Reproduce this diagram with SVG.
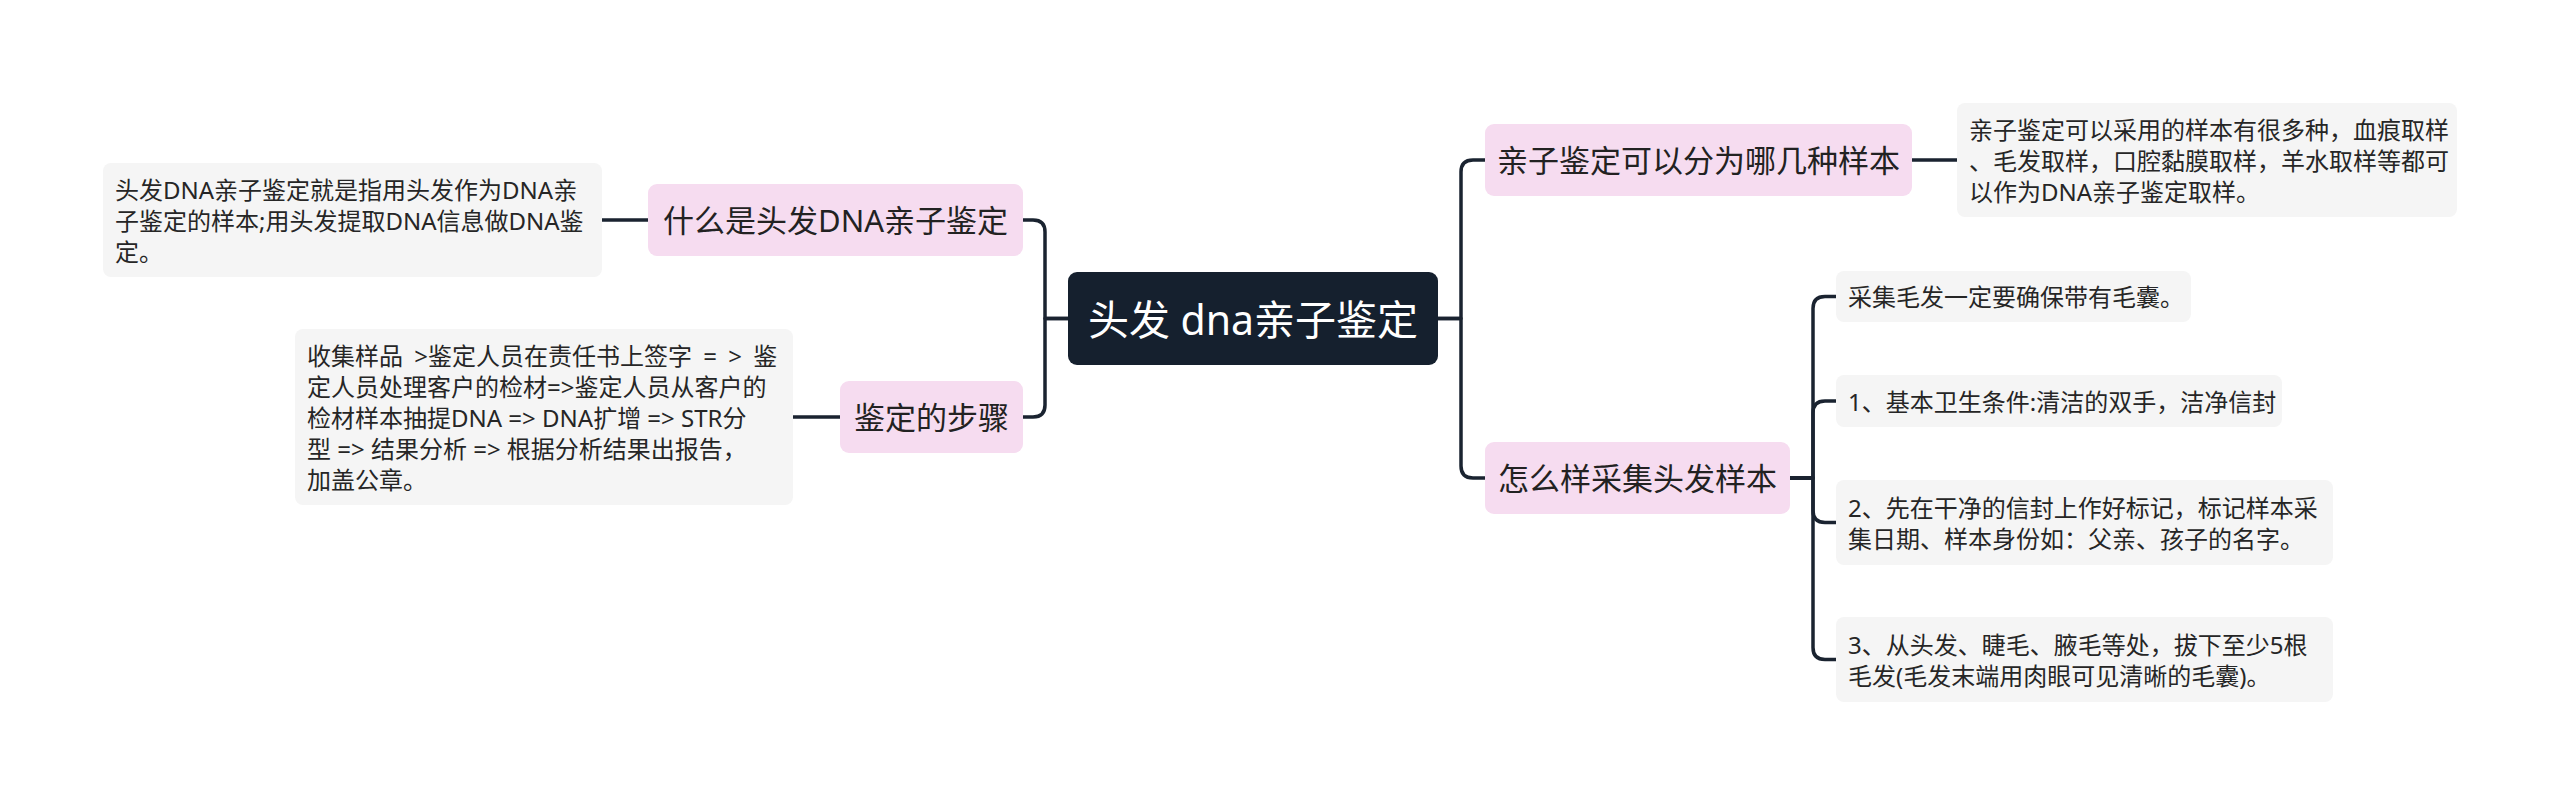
<svg xmlns="http://www.w3.org/2000/svg" width="2560" height="803" viewBox="0 0 2560 803">
<style>
.bg{fill:#ffffff}
.root rect{fill:#15202e}
.root text{fill:#ffffff;font-size:41px}
.branch rect{fill:#f6dcf0}
.branch text{fill:#222222;font-size:31px}
.leaf rect{fill:#f5f5f5}
.leaf text{fill:#262626;font-size:24px}
.ws{word-spacing:5px}
text{font-family:"Noto Sans","Noto Sans CJK SC",sans-serif;dominant-baseline:central}
.c path{fill:none;stroke:#1a2330;stroke-width:3.5;stroke-linecap:round;stroke-linejoin:round}
</style>
<rect class="bg" x="0" y="0" width="2560" height="803"/>
<g class="c" id="connectors">
<path d="M1068,318.5 H1045 V232 Q1045,220 1033,220 H1023"/>
<path d="M1068,318.5 H1045 V405 Q1045,417 1033,417 H1023"/>
<path d="M1438,318.5 H1461 V172 Q1461,160 1473,160 H1485"/>
<path d="M1438,318.5 H1461 V466 Q1461,478 1473,478 H1485"/>
<path d="M648,220 H602"/>
<path d="M840,417 H793"/>
<path d="M1912,160 H1957"/>
<path d="M1790,478 H1813 V308.5 Q1813,296.5 1825,296.5 H1836"/>
<path d="M1790,478 H1813 V413 Q1813,401 1825,401 H1836"/>
<path d="M1790,478 H1813 V510.5 Q1813,522.5 1825,522.5 H1836"/>
<path d="M1790,478 H1813 V647.5 Q1813,659.5 1825,659.5 H1836"/>
</g>
<g class="root" id="root">
<rect x="1068" y="272" width="370" height="93" rx="9"/>
<text x="1253" y="318.5" text-anchor="middle">头发 dna亲子鉴定</text>
</g>
<g class="branch" id="b1">
<rect x="648" y="184" width="375" height="72" rx="9"/>
<text x="835.5" y="220" text-anchor="middle">什么是头发DNA亲子鉴定</text>
</g>
<g class="branch" id="b2">
<rect x="840" y="381" width="183" height="72" rx="9"/>
<text x="931.5" y="417" text-anchor="middle">鉴定的步骤</text>
</g>
<g class="branch" id="b3">
<rect x="1485" y="124" width="427" height="72" rx="9"/>
<text x="1698.5" y="160" text-anchor="middle">亲子鉴定可以分为哪几种样本</text>
</g>
<g class="branch" id="b4">
<rect x="1485" y="442" width="305" height="72" rx="9"/>
<text x="1637.5" y="478" text-anchor="middle">怎么样采集头发样本</text>
</g>
<g class="leaf" id="l1">
<rect x="103" y="163" width="499" height="114" rx="8"/>
<text x="115" y="189">头发DNA亲子鉴定就是指用头发作为DNA亲</text>
<text x="115" y="220">子鉴定的样本;用头发提取DNA信息做DNA鉴</text>
<text x="115" y="251">定。</text>
</g>
<g class="leaf" id="l2">
<rect x="295" y="329" width="498" height="176" rx="8"/>
<text class="ws" x="307" y="355">收集样品 &gt;鉴定人员在责任书上签字 = &gt; 鉴</text>
<text x="307" y="386">定人员处理客户的检材=&gt;鉴定人员从客户的</text>
<text x="307" y="417">检材样本抽提DNA =&gt; DNA扩增 =&gt; STR分</text>
<text x="307" y="448">型 =&gt; 结果分析 =&gt; 根据分析结果出报告，</text>
<text x="307" y="479">加盖公章。</text>
</g>
<g class="leaf" id="l3">
<rect x="1957" y="103" width="500" height="114" rx="8"/>
<text x="1969" y="129">亲子鉴定可以采用的样本有很多种，血痕取样</text>
<text x="1969" y="160">、毛发取样，口腔黏膜取样，羊水取样等都可</text>
<text x="1969" y="191">以作为DNA亲子鉴定取样。</text>
</g>
<g class="leaf" id="l4">
<rect x="1836" y="271" width="355" height="51" rx="8"/>
<text x="1848" y="296.5">采集毛发一定要确保带有毛囊。</text>
</g>
<g class="leaf" id="l5">
<rect x="1836" y="375" width="446" height="52" rx="8"/>
<text x="1848" y="401">1、基本卫生条件:清洁的双手，洁净信封</text>
</g>
<g class="leaf" id="l6">
<rect x="1836" y="480" width="497" height="85" rx="8"/>
<text x="1848" y="507">2、先在干净的信封上作好标记，标记样本采</text>
<text x="1848" y="538">集日期、样本身份如：父亲、孩子的名字。</text>
</g>
<g class="leaf" id="l7">
<rect x="1836" y="617" width="497" height="85" rx="8"/>
<text x="1848" y="644">3、从头发、睫毛、腋毛等处，拔下至少5根</text>
<text x="1848" y="675">毛发(毛发末端用肉眼可见清晰的毛囊)。</text>
</g>
</svg>
